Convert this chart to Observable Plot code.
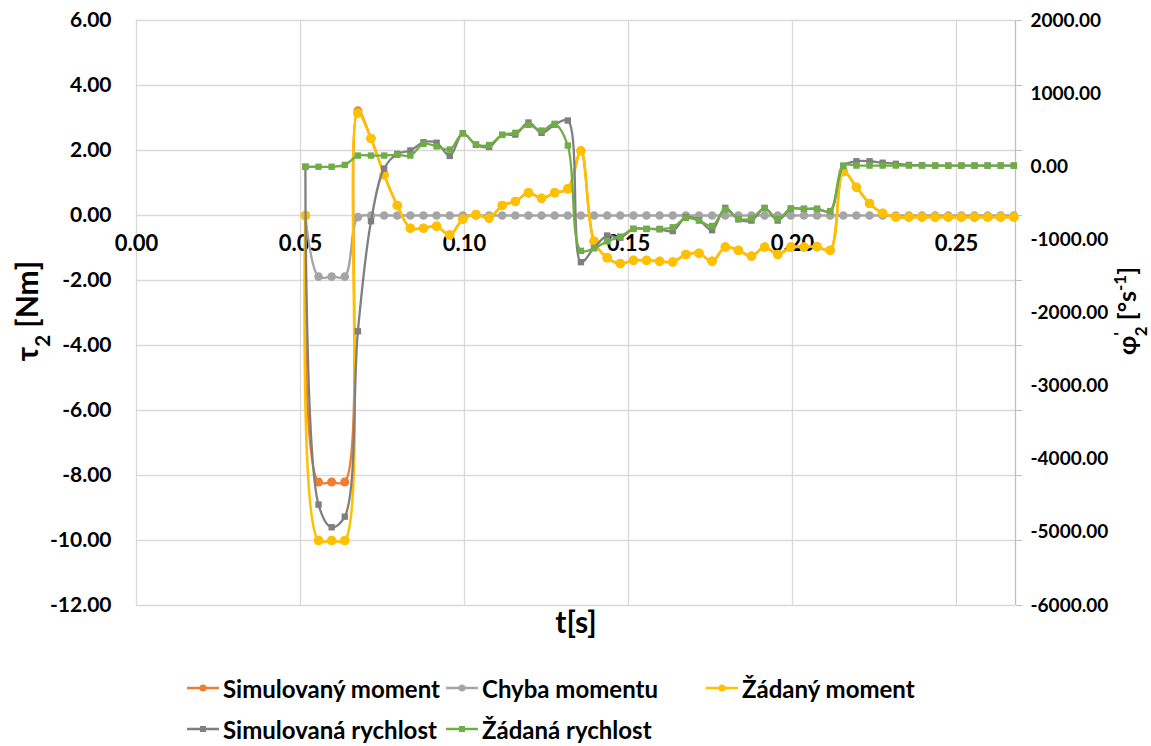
<!DOCTYPE html>
<html><head><meta charset="utf-8">
<script src="https://cdn.jsdelivr.net/npm/d3@7"></script>
<script src="https://cdn.jsdelivr.net/npm/@observablehq/plot@0.6"></script>
<style>
body{margin:0;background:#fff;font-family:Lato,"Open Sans",sans-serif;}
#wrap{position:relative;width:1151px;height:746px;overflow:hidden;}
.leg{position:absolute;display:flex;align-items:center;height:30px;font-weight:bold;font-size:24px;color:#000;white-space:nowrap;}
.leg svg{margin-right:4px;}
</style></head><body><div id="wrap"></div>
<script>
// ---- data ----
const time = [0.0515,0.0555,0.0595,0.0635,0.0675,0.0715,0.0755,0.0795,0.0835,0.0875,
  0.0915,0.0955,0.0995,0.1035,0.1075,0.1115,0.1155,0.1195,0.1235,0.1275,
  0.1315,0.1355,0.1395,0.1435,0.1475,0.1515,0.1555,0.1595,0.1635,0.1675,
  0.1715,0.1755,0.1795,0.1835,0.1875,0.1915,0.1955,0.1995,0.2035,0.2075,
  0.2115,0.2155,0.2195,0.2235,0.2275,0.2315,0.2355,0.2395,0.2435,0.2475,
  0.2515,0.2555,0.2595,0.2635,0.2675];
const simulovanyMoment = [0.00,-8.20,-8.20,-8.20,3.22,2.37,1.25,0.31,-0.39,-0.39,
  -0.33,-0.60,-0.11,0.03,-0.08,0.31,0.43,0.70,0.53,0.70,
  0.82,1.99,-0.79,-1.30,-1.48,-1.38,-1.38,-1.41,-1.43,-1.20,
  -1.16,-1.41,-0.97,-1.07,-1.25,-0.97,-1.20,-0.97,-0.97,-0.96,
  -1.07,1.35,0.87,0.37,0.07,-0.05,-0.05,-0.05,-0.05,-0.05,
  -0.05,-0.05,-0.05,-0.05,-0.05];
const chybaMomentu = [0.00,-1.88,-1.88,-1.88,-0.05,0,0,0,0,0,
  0,0,0,0,0,0,0,0,0,0,
  0,0,0,0,0,0,0,0,0,0,
  0,0,0,0,0,0,0,0,0,0,
  0,0,0,0,0,0,0,0,0,0,
  0,0,0,0,0];
const zadanyMoment = [0.00,-10.00,-10.00,-10.00,3.15,2.37,1.25,0.31,-0.39,-0.39,
  -0.33,-0.60,-0.11,0.03,-0.08,0.31,0.43,0.70,0.53,0.70,
  0.82,1.99,-0.79,-1.30,-1.48,-1.38,-1.38,-1.41,-1.43,-1.20,
  -1.16,-1.41,-0.97,-1.07,-1.25,-0.97,-1.20,-0.97,-0.97,-0.96,
  -1.07,1.35,0.87,0.37,0.07,-0.05,-0.05,-0.05,-0.05,-0.05,
  -0.05,-0.05,-0.05,-0.05,-0.05];
const simulovanaRychlost = [0,-4620,-4930,-4785,-2250,-745,-25,176,222,335,
  328,148,457,300,270,436,440,605,464,575,
  632,-1305,-1110,-941,-970,-850,-850,-855,-880,-690,
  -730,-868,-562,-720,-736,-562,-736,-576,-576,-576,
  -609,10,75,75,55,40,25,20,16,16,
  16,16,16,16,16];
const zadanaRychlost = [0,0,0,25,153,153,153,163,153,313,
  278,235,457,306,297,436,464,573,495,587,
  290,-1150,-1115,-1020,-955,-850,-850,-850,-828,-700,
  -736,-810,-583,-713,-705,-569,-714,-569,-576,-576,
  -606,16,16,16,16,16,16,16,16,16,
  16,16,16,16,16];
const leftTicks = [6,4,2,0,-2,-4,-6,-8,-10,-12];
const rightTicks = [2000,1000,0,-1000,-2000,-3000,-4000,-5000,-6000];
const xTicks = [0,0.05,0.10,0.15,0.20,0.25];
const seriesNames = ["Simulovaný moment","Chyba momentu","Žádaný moment","Simulovaná rychlost","Žádaná rychlost"];
const seriesColors = ["#ED7D31","#A5A5A5","#FFC000","#7F7F7F","#70AD47"];
const xMax = 0.268;
const leftDomain = [-12, 6], rightDomain = [-6000, 2000];

// ---- chart ----
const toLeft = r => leftDomain[0] + (r - rightDomain[0]) * (leftDomain[1]-leftDomain[0]) / (rightDomain[1]-rightDomain[0]);
const rows = time.map((t,i)=>({t, sm: simulovanyMoment[i], ch: chybaMomentu[i], zm: zadanyMoment[i],
  sr: toLeft(simulovanaRychlost[i]), zr: toLeft(zadanaRychlost[i])}));
const series = [
  {key:"sm", symbol:"circle", r:4.5},
  {key:"ch", symbol:"circle", r:4.3},
  {key:"zm", symbol:"circle", r:4.8},
  {key:"sr", symbol:"square", r:3.6},
  {key:"zr", symbol:"square", r:3.6}
];
const seriesMarks = series.flatMap((s,i)=>[
  Plot.line(rows, {x:"t", y:s.key, stroke:seriesColors[i], strokeWidth: i===2?2.6:2.3, curve:"catmull-rom"}),
  Plot.dot(rows, {x:"t", y:s.key, fill:seriesColors[i], stroke:"none", r:s.r, symbol:s.symbol})
]);

const chart = Plot.plot({
  width:1151, height:650,
  marginLeft:136, marginRight:136, marginTop:20, marginBottom:45,
  x:{domain:[0,xMax], axis:null},
  y:{domain:leftDomain, axis:null},
  style:{fontFamily:"Lato, sans-serif", background:"#fff", color:"#000"},
  marks:[
    Plot.gridX(xTicks, {stroke:"#d9d9d9", strokeOpacity:1, strokeWidth:1.3}),
    Plot.gridY(leftTicks, {stroke:"#d9d9d9", strokeOpacity:1, strokeWidth:1.3}),
    Plot.ruleX([xMax], {stroke:"#bfbfbf", strokeWidth:1.3}),
    Plot.axisY({anchor:"right", ticks:leftTicks, tickSize:6, tickFormat:()=>"", stroke:"#bfbfbf", label:null}),
    Plot.axisY({anchor:"left", ticks:leftTicks, tickSize:0, tickPadding:25, tickFormat:d=>d.toFixed(2), fontSize:21, fontWeight:"bold", label:null}),
    Plot.text(xTicks, {x:d=>d, y:()=>0, dy:28, text:d=>d.toFixed(2), fontSize:22, fontWeight:"bold"}),
    Plot.text(rightTicks, {y:d=>toLeft(d), frameAnchor:"right", dx:15, textAnchor:"start", text:d=>d.toFixed(2), fontSize:19, fontWeight:"bold"}),
    Plot.text(["t[s]"], {frameAnchor:"bottom", dy:27, text:d=>d, fontSize:30, fontWeight:"bold"}),
    ...seriesMarks
  ]
});
const wrap = document.getElementById("wrap");
wrap.appendChild(chart);

// axis titles with sub/superscripts
const svg = d3.select(chart);
function title(x, y, parts, size){
  const t = svg.append("text").attr("transform",`translate(${x},${y}) rotate(-90)`)
    .attr("text-anchor","middle").attr("font-size",size).attr("font-weight","bold")
    .attr("font-family","Lato, sans-serif").attr("fill","#000");
  parts.forEach(p=>{
    const s = t.append("tspan").text(p.t);
    if(p.shift){ s.attr("baseline-shift",p.shift).attr("font-size",size*0.68); }
    if(p.dx) s.attr("dx",p.dx);
  });
}
title(38, 311, [{t:"τ"},{t:"2",shift:"sub"},{t:" [Nm]"}], 30);
title(1136, 311, [{t:"φ"},{t:"'",shift:"super"},{t:"2",shift:"sub",dx:-4},{t:" [°s"},{t:"-1",shift:"super"},{t:"]"}], 25);

// legend
const legendPos = [[187,673],[446,673],[706,673],[187,714],[446,714]];
seriesNames.forEach((name,i)=>{
  const d = document.createElement("div");
  d.className = "leg";
  d.style.left = legendPos[i][0]+"px"; d.style.top = legendPos[i][1]+"px";
  const sym = series[i].symbol === "circle"
    ? `<circle cx="16" cy="15" r="3.5" fill="${seriesColors[i]}"/>`
    : `<rect x="13" y="12" width="6" height="6" fill="${seriesColors[i]}"/>`;
  d.innerHTML = `<svg width="32" height="30"><line x1="0" x2="32" y1="15" y2="15" stroke="${seriesColors[i]}" stroke-width="2.5"/>${sym}</svg><span>${name}</span>`;
  wrap.appendChild(d);
});
</script></body></html>
